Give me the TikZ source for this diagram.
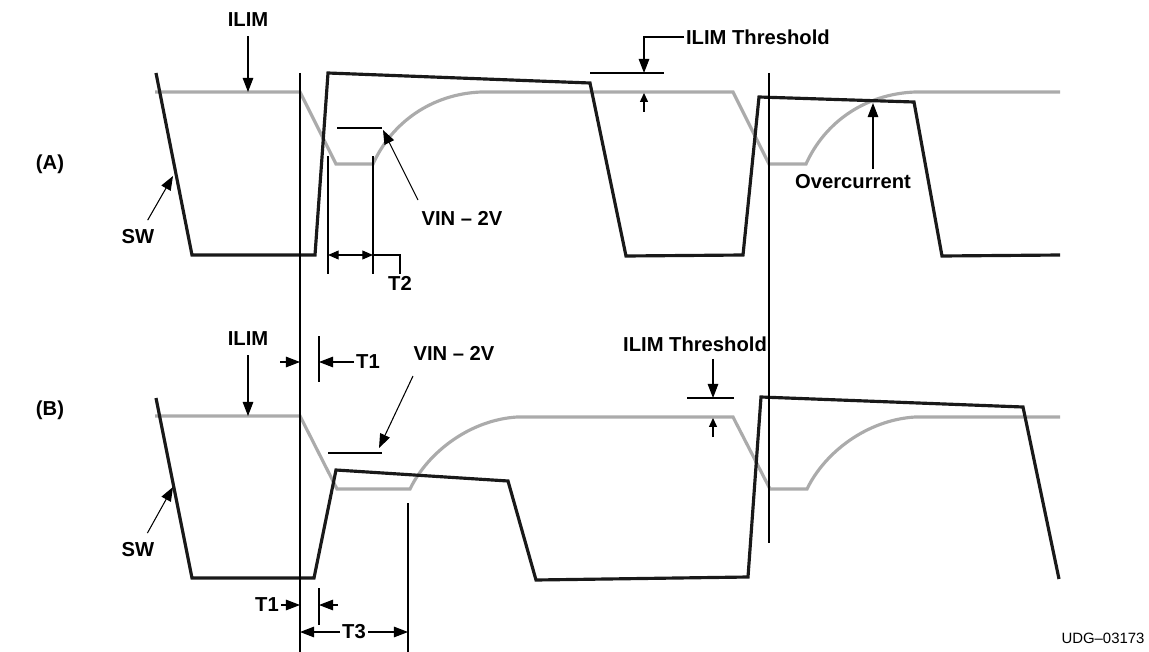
\documentclass[tikz,border=0pt]{standalone}
\usepackage{fontspec}
\setmainfont{Liberation Sans}
\usetikzlibrary{arrows.meta}
\begin{document}
\begin{tikzpicture}[x=0.02cm, y=-0.02cm,
  swline/.style={line width=1.8pt, black!90, line join=miter},
  ilimline/.style={line width=1.8pt, black!33},
  thin/.style={line width=0.6pt},
  lbl/.style={font=\fontsize{11.5}{13}\selectfont\bfseries, inner sep=1pt},
  arr/.style={thin, -{Triangle[length=8pt, width=6pt]}},
  sarr/.style={thin, -{Triangle[length=5pt, width=4.5pt]}}
]
\useasboundingbox (0,0) rectangle (1149,652);
% --- panel (A) ---
\draw[ilimline] (155,92) -- (300,92) -- (336,164) -- (373,164)
  .. controls (392,122) and (432,94) .. (481,92) -- (733,92) -- (769,164) -- (806,164)
  .. controls (825,122) and (865,94) .. (915,92) -- (1060,92);
\draw[swline] (156,73) -- (192,255) -- (315,255) -- (328,73) -- (590,83) -- (626,256)
  -- (743,255) -- (759,97) -- (914,102) -- (942,256) -- (1060,255);
% --- panel (B) ---
\draw[ilimline] (155,416) -- (300,416) -- (337,489) -- (410,489)
  .. controls (428,452) and (470,420) .. (517,417) -- (733,417) -- (770,489) -- (807,489)
  .. controls (825,452) and (867,420) .. (915,417) -- (1060,417);
\draw[swline] (156,398) -- (192,578) -- (314,578) -- (336,470) -- (508,481) -- (536,580)
  -- (748,577) -- (761,397) -- (1023,407) -- (1059,579);
% timing markers
\draw[thin] (300,73) -- (300,652);
\draw[thin] (769,73) -- (769,543);
\draw[thin] (328,156) -- (328,274);
\draw[thin] (373,156) -- (373,274);
\draw[thin] (319,336) -- (319,382);
\draw[thin] (319,588) -- (319,625);
\draw[thin] (408,503) -- (408,652);
% labels
\node[lbl] (capA) at (50,164) {(A)};
\node[lbl] (capB) at (50,410) {(B)};
\node[lbl] (ilimA) at (248,20) {ILIM};
\node[lbl] (ilimB) at (248,339) {ILIM};
\node[lbl] (swA) at (138,237) {SW};
\node[lbl] (swB) at (138,550) {SW};
\node[lbl] (vinA) at (462,218) {VIN – 2V};
\node[lbl] (vinB) at (454,353) {VIN – 2V};
\node[lbl] (t2) at (400,283) {T2};
\node[lbl] (t1up) at (368,362) {T1};
\node[lbl] (t1dn) at (267,605) {T1};
\node[lbl] (t3) at (354,632) {T3};
\node[lbl, anchor=west] (thrA) at (684,37) {ILIM Threshold};
\node[lbl] (thrB) at (695,344) {ILIM Threshold};
\node[lbl] (oc) at (853,182) {Overcurrent};
\node[font=\fontsize{8.5}{10}\selectfont, inner sep=1pt] (udg) at (1103,638) {UDG–03173};
% arrow ends
\coordinate (ilimAtip) at (248,92);
\coordinate (ilimBtip) at (248,416);
\coordinate (swAtip) at (173,176);
\coordinate (swBtip) at (173,487);
\coordinate (vinAfrom) at (418,200);
\coordinate (vinAtip) at (383,130);
\coordinate (vinBfrom) at (413,376);
\coordinate (vinBtip) at (379,448);
\coordinate (thrAtip) at (644,73);
\coordinate (thrAlow) at (644,112);
\coordinate (thrBtip) at (713,398);
\coordinate (thrBlow) at (713,437);
\coordinate (ocTip) at (873,103);
% level references
\draw[thin] (337,128) -- (382,128);
\draw[thin] (328,453) -- (382,453);
\draw[thin] (590,73) -- (664,73);
\draw[thin] (687,398) -- (734,398);
% arrows
\draw[arr, shorten <=4pt] (ilimA) -- (ilimAtip);
\draw[arr, shorten <=4pt] (ilimB) -- (ilimBtip);
\draw[arr, shorten <=5pt] (swA) -- (swAtip);
\draw[arr, shorten <=5pt] (swB) -- (swBtip);
\draw[arr] (vinAfrom) -- (vinAtip);
\draw[arr] (vinBfrom) -- (vinBtip);
\draw[arr] (thrA.west) -| (thrAtip);
\draw[sarr] (thrAlow) -- ++(0,-19);
\draw[arr, shorten <=3pt] (thrB.south -| thrBtip) -- (thrBtip);
\draw[sarr] (thrBlow) -- ++(0,-19);
\draw[arr, shorten <=2pt] (oc.north -| ocTip) -- (ocTip);
\draw[arr, {Triangle[length=6pt, width=5pt]}-{Triangle[length=6pt, width=5pt]}] (328,255) -- (373,255);
\draw[thin] (373,255) -| (t2.north);
\draw[arr] (280,362) -- (300,362);
\draw[arr] (t1up.west) -- (319,362);
\draw[arr] (t1dn.east) -- (300,605);
\draw[arr] (338,605) -- (319,605);
\draw[arr] (t3.west) -- (300,632);
\draw[arr] (t3.east) -- (408,632);
\end{tikzpicture}
\end{document}
